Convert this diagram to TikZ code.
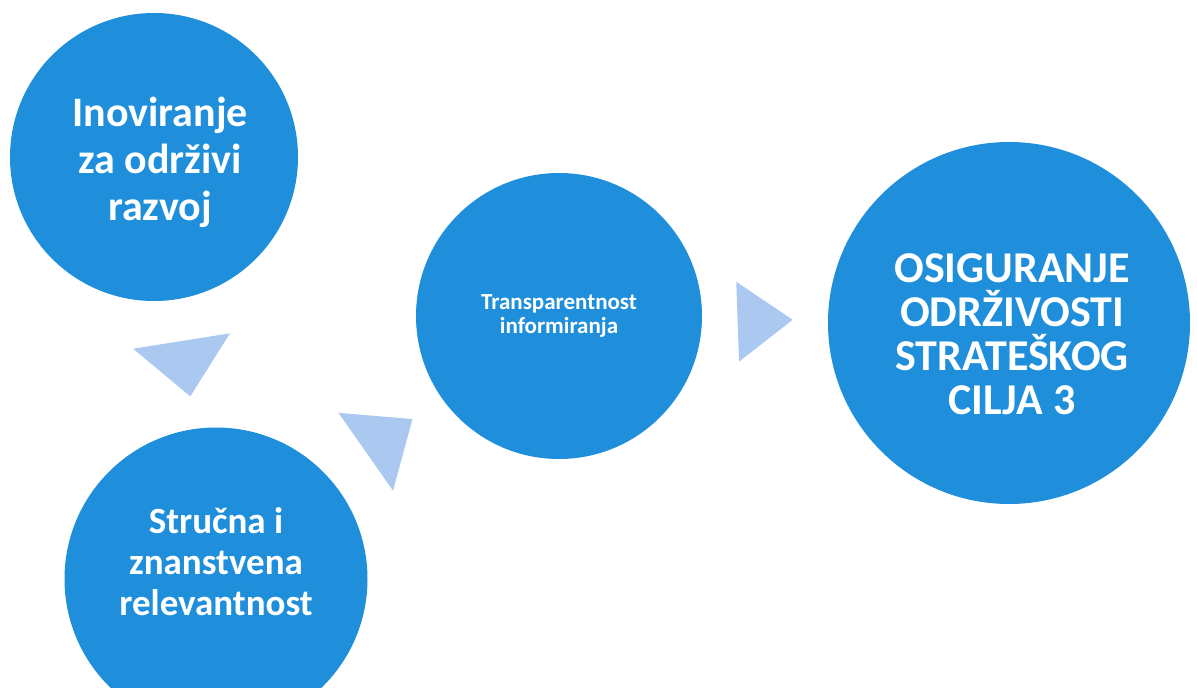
\documentclass[tikz,border=0pt]{standalone}
\usepackage{fontspec}
\setmainfont{Carlito}
\usetikzlibrary{shapes.geometric}
\definecolor{bubbleblue}{RGB}{31,143,219}
\definecolor{arrowblue}{RGB}{170,200,240}

\begin{document}
\begin{tikzpicture}[x=1pt, y=-1pt,
        main/.style = {circle, fill=bubbleblue, inner sep=0pt},
        txt/.style = {text=white, align=center, inner sep=0pt},
        tri/.style = {isosceles triangle, isosceles triangle stretches, fill=arrowblue, inner sep=0pt}]
        \clip (0,0) rectangle (1197,688);
        % circles
        \node[main, minimum size=288pt] (I) at (154,157) {};
        \node[main, minimum size=303pt] (S) at (216,579) {};
        \node[main, minimum size=286pt] (T) at (559,316) {};
        \node[main, minimum size=362pt] (O) at (1009,323) {};
        % texts
        \node[txt, font=\bfseries\fontsize{42}{47}\selectfont] (It) at (160,162) {Inoviranje\\za održivi\\razvoj};
        \node[txt, font=\bfseries\fontsize{37}{41}\selectfont] (St) at (216,562) {Stručna i\\znanstvena\\relevantnost};
        \node[txt, font=\bfseries\fontsize{23}{24}\selectfont] (Tt) at (559,316) {Transparentnost\\informiranja};
        \node[txt, font=\bfseries\fontsize{44}{44}\selectfont] (Ot) at (1012,334) {OSIGURANJE\\ODRŽIVOSTI\\STRATEŠKOG\\CILJA 3};
        % arrows between the circles
        \node[tri, minimum width=98pt, minimum height=56pt, rotate=-81] (a1) at (185,363) {};
        \node[tri, minimum width=95pt, minimum height=57pt, rotate=35] (a2) at (384,439) {};
        \node[tri, minimum width=80pt, minimum height=55pt, rotate=2] (a3) at (758,321) {};
    \end{tikzpicture}
\end{document}
